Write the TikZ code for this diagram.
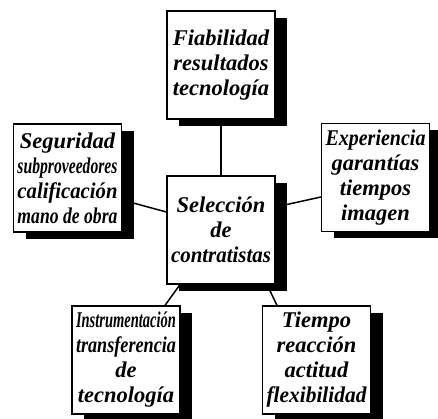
\documentclass[tikz,border=0pt]{standalone}
\usepackage{fontspec}
\setmainfont{Liberation Serif}
\usepackage{graphicx}
\usepackage{tikz}
\usetikzlibrary{shadows}
\usetikzlibrary{backgrounds}

% squeeze a line that is wider than the box
\newcommand{\fitline}[1]{\sbox0{#1}\ifdim\wd0>100pt\resizebox{100pt}{\height}{#1}\else#1\fi}

\tikzset{
  card/.style={draw, line width=1.2pt, fill=white, inner sep=0pt,
    minimum width=108pt, minimum height=108pt,
    drop shadow={shadow xshift=12pt, shadow yshift=-7pt, fill=black, opacity=1},
    path picture={\node[text=black, align=center,
      font=\bfseries\itshape\fontsize{22.5}{25}\selectfont]
      at (path picture bounding box.center) {#1};}},
  link/.style={line width=1.5pt}
}

\begin{document}
\begin{tikzpicture}[x=1pt,y=1pt]
\useasboundingbox (0,0) rectangle (438,419);
\node[card={Fiabilidad\\resultados\\tecnología}] (fiab) at (221,354) {};
\node[card={Seguridad\\\fitline{subproveedores}\\\fitline{calificación}\\\fitline{mano de obra}}] (segur) at (67.5,241) {};
\node[card={\fitline{Experiencia}\\garantías\\tiempos\\imagen}] (exper) at (375.5,241.5) {};
\node[card={Selección\\de\\\fitline{contratistas}}] (sel) at (221,189) {};
\node[card={\fitline{Instrumentación}\\\fitline{transferencia}\\de\\tecnología}] (instr) at (126,59) {};
\node[card={Tiempo\\reacción\\actitud\\\fitline{flexibilidad}}] (tiempo) at (316.5,59) {};
% lineas al centro
\begin{scope}[on background layer]
\draw[link] (fiab) -- (sel);
\draw[link] ([yshift=-22pt]segur.east) -- ([yshift=18pt]sel.west);
\draw[link] ([yshift=23pt]sel.east) -- ([yshift=-19.5pt]exper.west);
\draw[link] ([xshift=-41pt]sel.south) -- ([xshift=39pt]instr.north);
\draw[link] ([xshift=46pt]sel.south) -- ([xshift=-39.5pt]tiempo.north);
\end{scope}
\end{tikzpicture}
\end{document}
